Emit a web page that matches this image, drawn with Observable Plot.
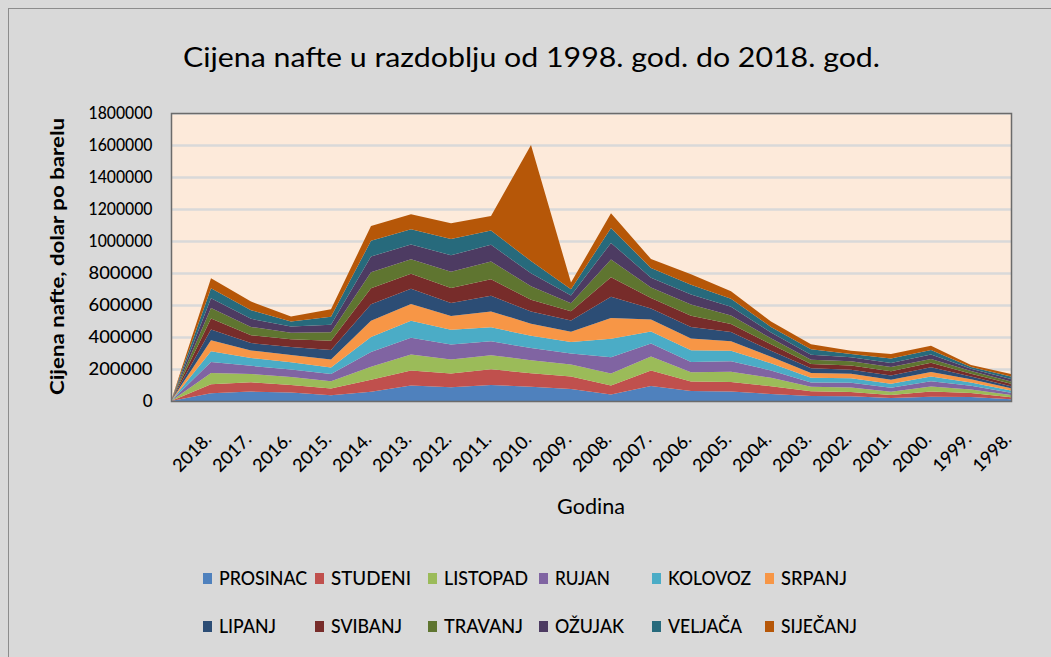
<!DOCTYPE html>
<html><head><meta charset="utf-8">
<script src="https://cdn.jsdelivr.net/npm/d3@7"></script>
<script src="https://cdn.jsdelivr.net/npm/@observablehq/plot@0.6"></script>
<style>
html,body{margin:0;padding:0;background:#d9d9d9;}
#page{position:relative;width:1051px;height:657px;overflow:hidden;font-family:Lato,"Open Sans",sans-serif;color:#000;}
#frame{position:absolute;left:8px;top:8px;width:1200px;height:1200px;border-left:1px solid #8c8c8c;border-top:1px solid #8c8c8c;}
#chart{position:absolute;left:0;top:100px;}
#overlay{position:absolute;left:0;top:0;pointer-events:none;}
</style></head><body>
<div id="page"><div id="frame"></div><div id="chart"></div><svg id="overlay" width="1051" height="657"></svg></div>
<script>
// Categories (first is the unlabeled starting point of the Excel chart)
const categories = ["", "2018.", "2017.", "2016.", "2015.", "2014.", "2013.", "2012.", "2011.", "2010.", "2009.", "2008.", "2007.", "2006.", "2005.", "2004.", "2003.", "2002.", "2001.", "2000.", "1999.", "1998."];
// Series, bottom to top of the stack
const months = ["PROSINAC", "STUDENI", "LISTOPAD", "RUJAN", "KOLOVOZ", "SRPANJ", "LIPANJ", "SVIBANJ", "TRAVANJ", "OŽUJAK", "VELJAČA", "SIJEČANJ"];
const colors = ["#4f81bd", "#c0504d", "#9bbb59", "#8064a2", "#4bacc6", "#f79646", "#2c4d75", "#772c2a", "#5f7530", "#4d3b62", "#276a7c", "#b65708"];

const prosinac = [0, 48700, 58900, 53100, 36500, 58000, 97000, 86400, 100200, 89200, 74500, 40400, 93700, 62000, 60100, 43200, 30600, 29500, 18300, 27000, 25400, 11000];
const studeni  = [0, 56000, 57600, 46600, 41600, 74100, 93300, 85100, 98700, 84300, 78000, 56300, 96900, 59100, 59000, 48500, 29600, 26400, 18500, 32600, 24300, 12600];
const listopad = [0, 69600, 52500, 50800, 45300, 82500, 99900, 88000, 87700, 81900, 75700, 75200, 87700, 58900, 63000, 53300, 28900, 28800, 20900, 31400, 22100, 14100];
const rujan    = [0, 69100, 50700, 46100, 44600, 91100, 105700, 93000, 86900, 75200, 69400, 102200, 81700, 63800, 66400, 45900, 26900, 29700, 24700, 32200, 23300, 14600];
const kolovoz  = [0, 67000, 48900, 45700, 42100, 94400, 105900, 92600, 87700, 76600, 71100, 114500, 74000, 73000, 65800, 44900, 30000, 28400, 25800, 29600, 20700, 13100];
const srpanj   = [0, 69800, 47400, 45600, 49900, 101300, 104000, 86500, 98900, 76300, 64200, 130900, 75800, 74400, 59700, 40800, 29200, 27000, 25000, 28300, 19500, 13800];
const lipanj   = [0, 66800, 45900, 49800, 58700, 103400, 95200, 81000, 97800, 75300, 69600, 131400, 69000, 71000, 57000, 38000, 29200, 25500, 26100, 30200, 17400, 13400];
const svibanj  = [0, 68900, 49300, 47700, 58100, 99900, 93900, 93100, 102500, 73700, 59000, 123100, 64900, 70800, 50400, 40300, 26700, 27000, 27000, 27300, 17300, 14500];
const travanj  = [0, 65200, 51900, 41600, 53400, 99800, 91500, 101600, 111300, 84300, 49700, 110500, 65400, 69400, 53600, 36800, 26800, 26200, 26000, 24400, 16900, 15100];
const ozujak   = [0, 61700, 50200, 38300, 46900, 98500, 92400, 104400, 104500, 81200, 47900, 103500, 61800, 62700, 54800, 36700, 31900, 24500, 25700, 28400, 14300, 14700];
const veljaca  = [0, 61200, 54400, 31000, 49600, 98600, 94700, 100500, 90000, 76400, 39100, 93600, 60600, 61600, 48700, 34700, 34100, 20700, 28000, 27900, 11700, 15700];
const sijecanj = [0, 62700, 53400, 32300, 46300, 92500, 94200, 98600, 90600, 726000, 41700, 91300, 55700, 65500, 47400, 34300, 31300, 19700, 27900, 25800, 12100, 16400];

const yTicks = [0, 200000, 400000, 600000, 800000, 1000000, 1200000, 1400000, 1600000, 1800000];

const seriesList = [prosinac, studeni, listopad, rujan, kolovoz, srpanj, lipanj, svibanj, travanj, ozujak, veljaca, sijecanj];
const data = [];
months.forEach((m, i) => categories.forEach((c, j) => data.push({godina: c, mjesec: m, cijena: seriesList[i][j]})));

const chart = Plot.plot({
  width: 1051, height: 440,
  marginLeft: 171, marginRight: 40, marginTop: 13, marginBottom: 139,
  style: {background: "transparent", fontFamily: "Lato, 'Open Sans', sans-serif", color: "#000", overflow: "visible"},
  x: {type: "point", domain: categories, padding: 0, label: null},
  y: {domain: [0, 1800000], label: null},
  color: {domain: months, range: colors},
  marks: [
    Plot.frame({fill: "#fdeada", stroke: null}),
    Plot.gridY(yTicks, {stroke: "#d9d9d9", strokeOpacity: 1, strokeWidth: 2.5}),
    Plot.areaY(data, {x: "godina", y: "cijena", z: "mjesec", fill: "mjesec", fillOpacity: 1}),
    Plot.frame({stroke: "#6b6b6b", strokeWidth: 1.5}),
    Plot.axisY(yTicks, {tickSize: 0, tickPadding: 19, fontSize: 17, fontWeight: 500, tickFormat: d => String(d), fill: "#000"}),
    Plot.axisX({tickSize: 0, tickRotate: -45, tickPadding: 35, dx: -3, fontSize: 18, fontWeight: 500, fill: "#000"})
  ]
});
document.getElementById("chart").appendChild(chart);
// match Excel's narrow tick label widths
d3.select(chart).selectAll('g[aria-label="y-axis tick label"] text')
  .attr("textLength", 64).attr("lengthAdjust", "spacingAndGlyphs")
  .filter(d => d === 0).attr("textLength", null);

// Titles and legend
const ov = d3.select("#overlay");
const font = "Lato, 'Open Sans', sans-serif";
ov.append("text").attr("x", 183).attr("y", 67).attr("font-family", font).attr("font-size", 27)
  .attr("textLength", 697).attr("lengthAdjust", "spacingAndGlyphs").text("Cijena nafte u razdoblju od 1998. god. do 2018. god.");
ov.append("text").attr("x", 557).attr("y", 514).attr("font-family", font).attr("font-size", 22)
  .attr("textLength", 68).attr("lengthAdjust", "spacingAndGlyphs").text("Godina");
ov.append("text").attr("transform", "translate(64,395) rotate(-90)").attr("font-family", font).attr("font-size", 19).attr("font-weight", "bold")
  .attr("textLength", 277).attr("lengthAdjust", "spacingAndGlyphs").text("Cijena nafte, dolar po barelu");

const legX = [203, 315, 428, 539, 652, 765];
const legW = [88, 80, 84, 55, 83, 66, 57, 71, 79, 69, 74, 76];
months.forEach((m, i) => {
  const col = i % 6, row = Math.floor(i / 6);
  const x = legX[col], yb = row === 0 ? 585 : 633;
  ov.append("rect").attr("x", x).attr("y", yb - 12).attr("width", 9).attr("height", 11).attr("fill", colors[i]);
  ov.append("text").attr("x", x + 16).attr("y", yb).attr("font-family", font).attr("font-size", 19).attr("font-weight", 500)
    .attr("textLength", legW[i]).attr("lengthAdjust", "spacingAndGlyphs").text(m);
});
</script>
</body></html>
